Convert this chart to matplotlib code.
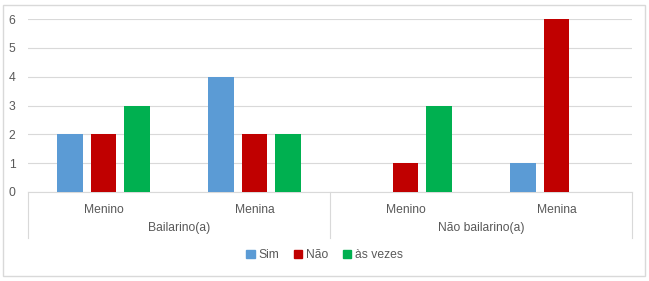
import numpy as np
import matplotlib.pyplot as plt
from matplotlib.patches import Rectangle, Patch

# data
grupos = ["Bailarino(a)", "Não bailarino(a)"]
sexos = ["Menino", "Menina", "Menino", "Menina"]
series = ["Sim", "Não", "às vezes"]
sim = [2, 4, 0, 1]
nao = [2, 2, 1, 6]
as_vezes = [3, 2, 3, 0]
cores = ["#5B9BD5", "#C00000", "#00B050"]

plt.rcParams['font.family'] = ['Liberation Sans', 'DejaVu Sans']
txt = "#595959"
linha = "#D9D9D9"
fs = 8.7

W, H = 649, 281
fig = plt.figure(figsize=(W / 100, H / 100), dpi=100)
fig.patches.append(Rectangle((3 / W, 5 / H), 642 / W, 271 / H, transform=fig.transFigure,
                             fill=False, edgecolor=linha, linewidth=1))

ax = fig.add_axes([28 / W, (H - 192) / H, 604 / W, 173 / H])
x = np.arange(len(sexos))
passo = 0.222
larg = 0.172
for i, (vals, cor) in enumerate(zip([sim, nao, as_vezes], cores)):
    ax.bar(x + (i - 1) * passo, vals, larg, color=cor, label=series[i], zorder=3)

ax.set_xlim(-0.5, 3.5)
ax.set_ylim(0, 6)
ax.set_yticks(range(0, 7))
ax.tick_params(axis='y', length=0, labelsize=fs, labelcolor=txt, pad=9)
ax.set_xticks([])
ax.grid(axis='y', color=linha, linewidth=0.8, zorder=0)
for s in ['top', 'right', 'left']:
    ax.spines[s].set_visible(False)
ax.spines['bottom'].set_color(linha)

tr = ax.get_xaxis_transform()
fundo = -(238 - 192) / 173
for xs in [-0.5, 1.5, 3.5]:
    ax.plot([xs, xs], [0, fundo], color=linha, linewidth=0.8, transform=tr, clip_on=False)
for xi, s in zip(x, sexos):
    ax.text(xi, -(210 - 192) / 173, s, transform=tr, ha='center', va='center',
            fontsize=fs, color=txt)
for g, nome in enumerate(grupos):
    ax.text(2 * g + 0.5, -(228 - 192) / 173, nome, transform=tr, ha='center', va='center',
            fontsize=fs, color=txt)

handles = [Patch(color=c, label=s) for c, s in zip(cores, series)]
fig.legend(handles=handles, loc='center', bbox_to_anchor=(0.5, (H - 255) / H), ncol=3,
           frameon=False, fontsize=fs, labelcolor=txt, handlelength=0.7, handleheight=0.7,
           handletextpad=0.3, columnspacing=1.2)

fig.savefig("out.png", dpi=100)
